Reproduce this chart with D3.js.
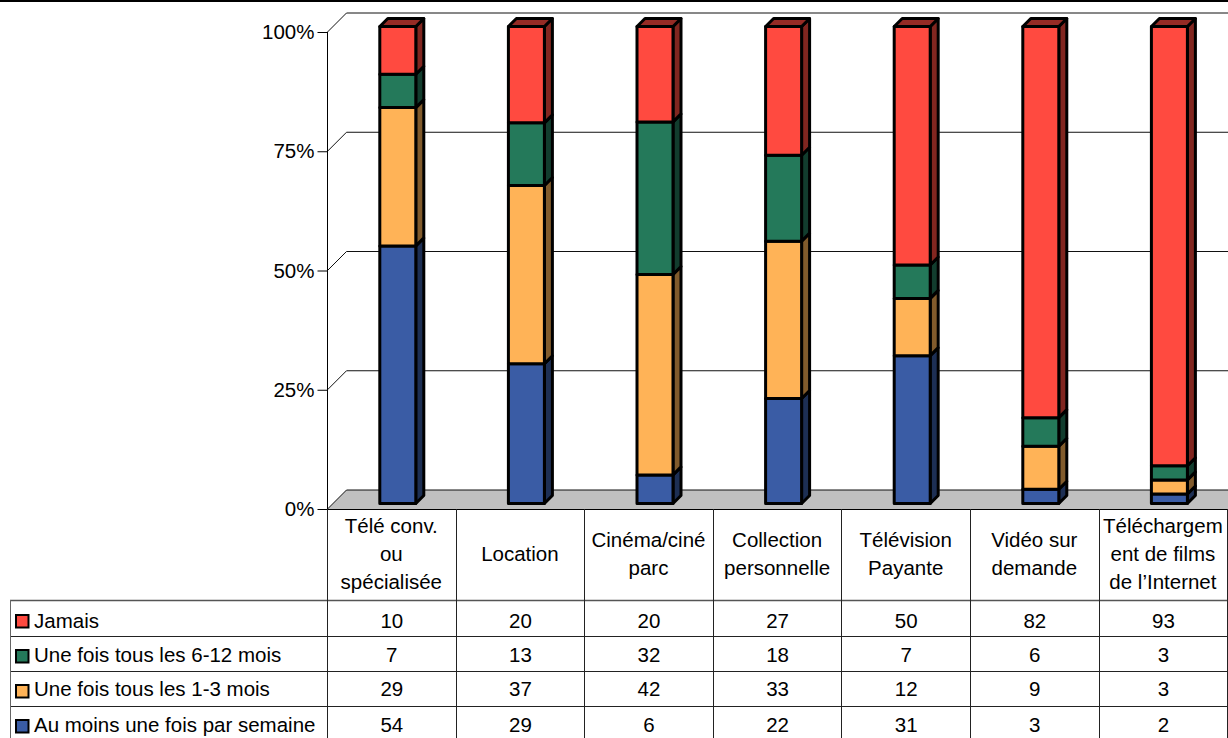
<!DOCTYPE html>
<html><head><meta charset="utf-8">
<script src="https://cdn.jsdelivr.net/npm/d3@7"></script>
<style>
html,body{margin:0;padding:0;background:#fff;overflow:hidden}
svg{display:block}
text{font-family:"Liberation Sans",Arial,sans-serif;font-size:20.5px;fill:#000}
</style></head><body>
<svg id="c" width="1228" height="738"></svg>
<script>
// Usage frequency per viewing channel
const categories = ["Télé conv. ou spécialisée","Location","Cinéma/ciné parc","Collection personnelle","Télévision Payante","Vidéo sur demande","Téléchargement de films de l’Internet"];
const categoryLines = [["Télé conv.","ou","spécialisée"],["Location"],["Cinéma/ciné","parc"],["Collection","personnelle"],["Télévision","Payante"],["Vidéo sur","demande"],["Téléchargem","ent de films","de l’Internet"]];
const seriesNames = ["Au moins une fois par semaine","Une fois tous les 1-3 mois","Une fois tous les 6-12 mois","Jamais"];
const weekly   = [54,29,6,22,31,3,2];
const months13 = [29,37,42,33,12,9,3];
const months612= [7,13,32,18,7,6,3];
const never    = [10,20,20,27,50,82,93];
const seriesValues = [weekly,months13,months612,never];
const colors = ["#3A5CA5","#FFB357","#24795A","#FF4A40"];
const yTicks = [0,25,50,75,100];

const plotLeft = 327.5, plotRight = 1228, plotTop = 32, plotBottom = 509, depth = 19;
const svg = d3.select("#c");
const x = d3.scaleBand().domain(categories).range([plotLeft, plotLeft + 128.6*7]);
const y = d3.scaleLinear().domain([0,1]).range([plotBottom, plotTop]);

svg.append("rect").attr("width",1228).attr("height",2).attr("fill","#000");

// Floor of the 3D plot and back-wall gridlines
svg.append("path")
  .attr("d",`M${plotLeft},${plotBottom}L${plotLeft+depth},${plotBottom-depth}L${plotRight},${plotBottom-depth}L${plotRight},${plotBottom}Z`)
  .attr("fill","#C0C0C0");
const grid = svg.append("g").attr("fill","none").attr("stroke","#111").attr("stroke-width",1);
yTicks.forEach(t => {
  const py = y(t/100);
  grid.append("path").attr("d",`M${plotLeft},${py}L${plotLeft+depth},${py-depth}L${plotRight},${py-depth}`);
});
svg.append("line").attr("x1",plotLeft).attr("x2",plotRight).attr("y1",plotBottom+.5).attr("y2",plotBottom+.5).attr("stroke","#000");

// Value axis
const axis = svg.append("g").attr("transform",`translate(${plotLeft},0)`)
  .call(d3.axisLeft(y).tickValues(yTicks.map(d=>d/100)).tickFormat(d=>Math.round(d*100)+"%").tickSize(10).tickPadding(2));
axis.selectAll("path,line").attr("stroke","#000");
axis.select(".domain").attr("d",`M0,${plotTop}V${plotBottom}`);
axis.selectAll("text").attr("text-anchor","end").attr("x",-13);
axis.attr("font-family",null).attr("font-size",null);

// Stacked 3D columns, normalised to 100 %
const rows = categories.map((c,i)=>{const o={cat:c};seriesNames.forEach((s,k)=>o[s]=seriesValues[k][i]);return o;});
const stacked = d3.stack().keys(seriesNames).offset(d3.stackOffsetExpand)(rows);
const barW = 36, off0 = 6, off1 = 14;
const cols = svg.append("g").attr("stroke","#000").attr("stroke-width",3).attr("stroke-linejoin","round");
stacked.forEach((layer,k)=>{
  const base = d3.color(colors[k]);
  const g = cols.append("g");
  layer.forEach(d=>{
    const fx = x(d.data.cat) + x.bandwidth()/2 - barW/2 + off0;
    const y0 = y(d[0]) - off0 + .5, y1 = y(d[1]) - off0 + .5;
    const dd = off1 - off0;
    // side face
    g.append("path").attr("fill",base.darker(1.9))
      .attr("d",`M${fx+barW},${y0}L${fx+barW+dd},${y0-dd}L${fx+barW+dd},${y1-dd}L${fx+barW},${y1}Z`);
    // top cap, shown on the uppermost segment
    if(k===stacked.length-1)
      g.append("path").attr("fill",base.darker(1.5))
        .attr("d",`M${fx},${y1}L${fx+dd},${y1-dd}L${fx+barW+dd},${y1-dd}L${fx+barW},${y1}Z`);
    g.append("rect").attr("x",fx).attr("y",y1).attr("width",barW).attr("height",y0-y1).attr("fill",colors[k]);
  });
});

// Data table beneath the plot
const rowEdges = [601,636,671,706,738];
const tableLeft = 10;
const table = svg.append("g").attr("stroke","#222").attr("stroke-width",1);
table.append("line").attr("x1",tableLeft).attr("x2",plotRight).attr("y1",600.5).attr("y2",600.5).attr("stroke","#555").attr("stroke-width",1.5);
rowEdges.slice(1,4).forEach(e=>table.append("line").attr("x1",tableLeft+.5).attr("x2",plotRight).attr("y1",e+.5).attr("y2",e+.5));
table.append("line").attr("x1",tableLeft+.5).attr("x2",tableLeft+.5).attr("y1",600).attr("y2",738).attr("stroke","#666");
table.append("line").attr("x1",plotLeft).attr("x2",plotLeft).attr("y1",plotBottom).attr("y2",738);
categories.forEach(c=>{
  const e = Math.floor(x(c)+x.bandwidth())+.5;
  if(e<1228) table.append("line").attr("x1",e).attr("x2",e).attr("y1",plotBottom).attr("y2",738);
});

categories.forEach((c,i)=>{
  const cx = x(c)+x.bandwidth()/2 - .5;
  const lines = categoryLines[i];
  const t = svg.append("text").attr("text-anchor","middle");
  lines.forEach((l,j)=>t.append("tspan").attr("x",cx).attr("y",561-(lines.length-1)*14+j*28).text(l));
});

const tableOrder = [3,2,1,0];
const baselines = [628,662,696,732];
tableOrder.forEach((k,r)=>{
  svg.append("rect").attr("x",16).attr("y",rowEdges[r]+14).attr("width",12.5).attr("height",12.5)
    .attr("fill",colors[k]).attr("stroke","#000").attr("stroke-width",2);
  svg.append("text").attr("x",34).attr("y",baselines[r]).text(seriesNames[k]);
  categories.forEach((c,i)=>{
    svg.append("text").attr("x",x(c)+x.bandwidth()/2).attr("y",baselines[r]).attr("text-anchor","middle").text(seriesValues[k][i]);
  });
});
</script>
</body></html>
